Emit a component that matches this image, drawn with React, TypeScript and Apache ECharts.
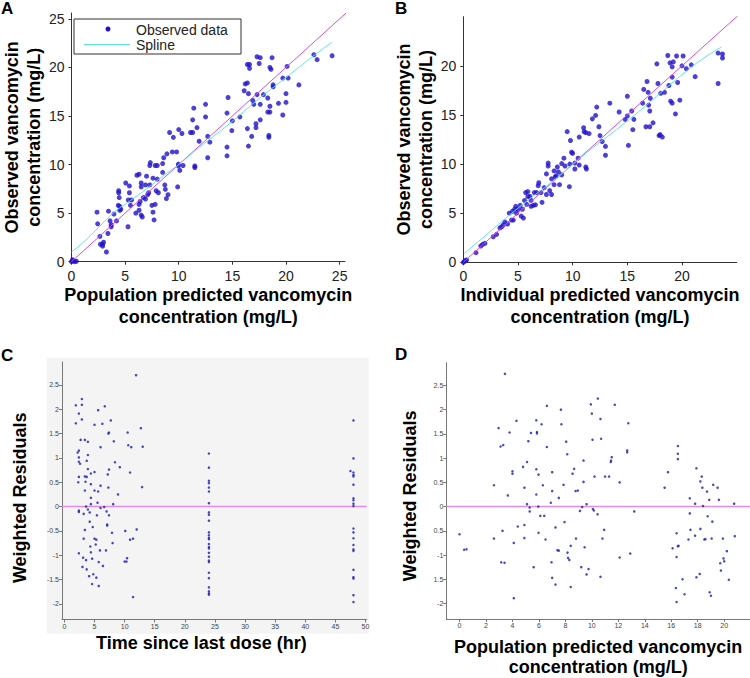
import React, { useEffect, useRef } from 'react';
import * as echarts from 'echarts';

// Panel A: population predicted vs observed (mg/L)
const popPredObs: number[][] = [
  [0, 0], [0.15, 0.1], [0.3, 0], [0.45, 0.05], [0.1, 0.2],
  [2.38, 5.1], [2.44, 3.9], [2.65, 2.6], [2.7, 1.8], [2.9, 1.8], [2.99, 2.0], [2.9, 1.6], [3.26, 1.0], [3.4, 2.9],
  [3.45, 5.2], [3.6, 4.2], [3.7, 3.6], [3.7, 3.8], [3.96, 4.9], [4.2, 4.2], [4.4, 7.3], [4.4, 7.1], [4.36, 5.8],
  [4.5, 5.7], [4.5, 5.3], [4.6, 5.4], [4.45, 6.6], [5.06, 8.1], [5.27, 3.6], [5.3, 6.35], [5.4, 7.1], [5.4, 7.8],
  [5.5, 5.8], [5.6, 6.35], [6.0, 5.0], [6.1, 8.9], [6.3, 9.0], [6.3, 5.9], [6.3, 5.3], [6.4, 6.2], [6.5, 7.7],
  [6.5, 8.1], [6.5, 4.8], [6.6, 4.6], [6.7, 6.6], [6.9, 6.45], [6.9, 7.9], [7.0, 8.8], [7.1, 6.9], [7.2, 7.1],
  [7.3, 7.9], [7.3, 9.9], [7.35, 10.2], [7.5, 5.8], [7.6, 8.6], [7.6, 5.1], [7.7, 4.3], [7.8, 5.9], [7.8, 9.9],
  [7.9, 7.3], [8.0, 9.9], [8.1, 7.1], [8.0, 8.5], [8.5, 10.1], [8.5, 9.2], [8.6, 10.7], [8.7, 7.9], [8.75, 7.45],
  [8.85, 6.5], [9.0, 6.9], [8.9, 11.1], [9.15, 13.3], [9.4, 11.3], [9.5, 12.8], [9.8, 11.3], [9.9, 7.7],
  [9.97, 9.85], [9.97, 10.05], [10.1, 9.4], [10.0, 13.6], [10.3, 13.2], [10.4, 9.9], [11.1, 13.3], [11.3, 13.3],
  [11.3, 14.6], [11.4, 15.8], [11.5, 9.7], [11.5, 9.85], [11.7, 13.8], [11.9, 12.4], [12.5, 14.9], [12.5, 16.2],
  [12.7, 10.7], [12.7, 12.9], [12.9, 12.3], [14.6, 16.9], [14.5, 15.3], [14.5, 11.8], [14.5, 10.9], [15.0, 14.5],
  [14.95, 13.5], [15.7, 14.9], [16.1, 17.6], [16.2, 18.3], [16.4, 18.4], [16.4, 20.3], [16.6, 20.3], [16.5, 17.3],
  [16.5, 11.9], [16.4, 13.7], [16.6, 19.9], [16.8, 12.9], [16.9, 16.6], [17.0, 16.2], [17.3, 17.2], [17.2, 14.2],
  [17.2, 13.8], [17.3, 21.1], [17.5, 20.4], [17.6, 21.0], [17.6, 14.6], [17.6, 16.2], [17.9, 17.2], [18.3, 16.85],
  [18.5, 15.4], [18.4, 13.0], [18.4, 12.8], [18.5, 16.0], [18.5, 20.0], [18.6, 19.8], [18.3, 15.4], [18.7, 21.0],
  [18.8, 18.0], [18.8, 18.2], [19.3, 16.3], [19.7, 18.9], [19.7, 15.1], [20.0, 17.3], [20.0, 16.4], [20.1, 20.1],
  [20.2, 18.9], [21.2, 18.2], [22.6, 21.3], [22.9, 20.8], [24.3, 21.2]
];
const splineA: number[][] = [
  [0, 1.0], [1, 1.9], [2.5, 3.5], [4, 5.1], [5.5, 6.3], [7, 7.5], [8.5, 8.8], [10, 10.0], [11.5, 11.4],
  [13, 12.7], [14.5, 14.0], [16, 15.4], [17.5, 16.8], [19, 18.1], [20.5, 19.4], [22, 20.7], [23.3, 21.8], [24.3, 22.6]
];

// Panel B: individual predicted vs observed (mg/L)
const indPredObs: number[][] = [
  [0, 0], [0.1, 0.1], [0.2, 0.17], [0.3, 0.24], [1.16, 0.98], [1.6, 1.66], [1.77, 1.83], [1.98, 1.93], [2.74, 2.6],
  [3.04, 2.84], [3.35, 3.5], [3.5, 3.6], [3.65, 3.8], [3.8, 4.1], [4.05, 3.9], [4.2, 5.0], [4.4, 4.3], [4.5, 5.2],
  [4.57, 4.3], [4.7, 5.4], [4.8, 5.7], [4.87, 5.0], [5.0, 5.4], [5.2, 5.8], [5.3, 4.7], [5.5, 4.5], [5.4, 5.4],
  [5.6, 6.3], [5.7, 7.1], [5.8, 5.9], [5.9, 7.2], [5.9, 6.7], [6.1, 6.7], [6.2, 5.7], [6.2, 6.3], [6.4, 5.8],
  [6.5, 7.1], [6.6, 5.85], [6.7, 7.1], [6.85, 7.8], [6.9, 8.1], [7.1, 7.1], [7.2, 6.1], [7.4, 7.6], [7.6, 6.9],
  [7.6, 9.0], [7.76, 10.1], [7.76, 9.8], [7.9, 7.3], [8.07, 8.5], [8.07, 6.9], [8.3, 7.9], [8.3, 9.3], [8.4, 8.7],
  [8.5, 8.8], [8.6, 9.7], [8.7, 9.2], [8.8, 7.9], [9.0, 8.9], [9.0, 10.05], [9.2, 10.6], [9.3, 9.8], [9.5, 13.3],
  [9.7, 7.7], [9.74, 10.0], [9.8, 12.4], [9.9, 11.2], [10.0, 11.1], [10.2, 10.1], [10.2, 9.5], [10.5, 10.6],
  [10.6, 9.9], [10.6, 12.75], [11.0, 13.7], [11.05, 13.3], [11.2, 13.2], [11.2, 9.7], [11.26, 9.5], [11.5, 13.1],
  [11.8, 14.6], [12.1, 14.95], [12.2, 15.8], [12.4, 13.8], [12.5, 12.9], [12.7, 12.3], [13.0, 11.8], [13.0, 10.9],
  [13.4, 16.2], [14.25, 15.3], [14.8, 14.55], [15.0, 16.9], [15.0, 14.9], [15.1, 11.9], [15.4, 15.4], [15.5, 13.5],
  [15.6, 14.55], [16.4, 16.2], [16.5, 17.6], [16.8, 18.4], [16.7, 13.8], [16.9, 17.3], [17.1, 16.7], [17.05, 13.8],
  [16.95, 16.0], [17.05, 15.4], [17.35, 14.2], [17.7, 20.2], [17.8, 18.2], [17.9, 12.9], [18.0, 13.0], [18.2, 12.75],
  [18.05, 17.2], [18.4, 17.3], [18.7, 21.05], [18.9, 20.3], [19.1, 19.9], [19.2, 20.4], [18.8, 18.0], [18.96, 16.4],
  [19.1, 16.2], [19.1, 18.85], [19.4, 15.1], [19.5, 21.0], [19.6, 18.3], [19.8, 16.5], [20.1, 21.0], [20.0, 20.0],
  [20.4, 19.7], [20.85, 20.1], [21.2, 18.9], [23.3, 21.3], [23.3, 18.2], [23.7, 21.2], [23.7, 20.8]
];
const splineB: number[][] = [
  [0.1, 0.9], [2, 2.7], [4, 4.6], [6, 6.4], [8, 8.1], [10, 9.95], [12, 11.8], [14, 13.5], [16, 15.3],
  [18, 17.2], [20, 19.1], [22, 20.8], [23.6, 21.9]
];
const identityLine: number[][] = [[0, 0], [30, 30]];

// Panel C: time since last dose (hr) vs weighted residuals
const timeWres: number[][] = [
  [11.9, 2.70], [1.9, 2.08], [2.9, 2.21], [2.9, 2.09], [2.4, 1.91], [2.9, 1.79], [1.9, 1.71], [5.6, 1.98],
  [6.7, 2.06], [5.0, 1.68], [6.3, 1.70], [7.7, 1.77], [7.4, 1.52], [7.3, 1.50], [10.5, 1.52], [12.7, 1.61],
  [2.7, 1.37], [3.4, 1.37], [3.9, 1.33], [8.2, 1.34], [6.0, 1.22], [10.6, 1.26], [11.1, 1.22], [13.0, 1.23],
  [2.4, 1.15], [2.2, 1.11], [2.4, 1.01], [2.4, 0.92], [2.6, 0.88], [3.9, 1.06], [3.7, 0.94], [8.4, 0.91],
  [9.2, 0.81], [3.9, 0.77], [7.4, 0.76], [10.9, 0.70], [5.0, 0.71], [4.4, 0.68], [7.2, 0.66], [2.4, 0.61],
  [3.4, 0.62], [3.7, 0.61], [2.3, 0.50], [3.5, 0.51], [4.4, 0.46], [6.0, 0.43], [3.4, 0.33], [5.0, 0.33],
  [5.6, 0.31], [7.3, 0.39], [12.9, 0.40], [8.9, 0.25], [4.4, 0.18], [4.4, 0.05], [5.5, 0.08], [8.1, 0.05],
  [2.4, -0.08], [2.4, -0.11], [3.2, -0.15], [3.6, 0], [3.9, -0.06], [4.2, -0.12], [5.4, -0.18], [6.0, -0.03],
  [6.6, -0.01], [7.0, -0.10], [7.4, -0.18], [4.2, -0.31], [4.7, -0.42], [7.1, -0.37], [7.1, -0.39], [3.4, -0.48],
  [7.9, -0.54], [10.1, -0.50], [12.0, -0.47], [3.2, -0.66], [5.0, -0.66], [5.3, -0.68], [10.9, -0.68],
  [11.4, -0.66], [5.2, -0.78], [8.0, -0.75], [4.3, -0.82], [5.9, -0.90], [6.9, -0.90], [4.4, -0.94],
  [2.4, -0.96], [3.1, -1.05], [3.6, -1.10], [4.6, -1.07], [5.7, -1.14], [6.4, -1.22], [10.0, -1.13],
  [10.3, -1.13], [10.4, -1.06], [3.0, -1.24], [3.7, -1.29], [4.1, -1.43], [5.3, -1.46], [4.6, -1.59],
  [5.7, -1.63], [4.8, -1.39], [11.4, -1.86],
  [24, 1.09], [24, 0.80], [24, 0.53], [24, 0.48], [24, 0.39], [24, 0.31], [24, 0.07], [24, -0.12], [24, -0.17],
  [24, -0.29], [24, -0.53], [24, -0.59], [24, -0.64], [24, -0.67], [24, -0.77], [24, -0.83], [24, -0.86],
  [24, -0.95], [24, -1.03], [24, -1.11], [24, -1.14], [24, -1.36], [24, -1.47], [24, -1.66], [24, -1.74],
  [24, -1.78], [24, -1.81],
  [48, 1.77], [48, 0.99], [48, 0.70], [48, 0.65], [48, 0.62], [48, 0.45], [48, 0.17], [48, 0.13], [48, 0.06],
  [48, 0.01], [48, -0.45], [48, -0.53], [48, -0.65], [48, -0.79], [48, -0.88], [48, -0.91], [48, -1.30],
  [48, -1.45], [48, -1.48], [48, -1.82], [48, -1.96], [47.5, 0.73]
];

// Panel D: population predicted (mg/L) vs weighted residuals
const popPredWres: number[][] = [
  [0.0, -0.57], [0.35, -0.89], [0.53, -0.88], [3.43, 2.74], [2.95, 1.62], [3.1, 1.24], [3.3, 1.27], [3.78, 1.53],
  [2.6, 0.44], [2.6, -0.66], [3.15, -1.15], [3.4, -1.16], [3.25, -0.50], [3.65, 0.23], [4.3, 1.77], [4.0, 0.73],
  [4.0, 0.68], [4.1, -0.75], [4.1, -1.89], [4.4, -0.41], [4.8, 0.82], [4.9, 0.39], [5.1, 0.92], [4.9, -0.38],
  [4.9, -0.65], [5.2, 1.35], [5.4, 1.52], [5.1, 0.05], [5.3, -0.02], [5.3, -0.10], [5.6, -1.25], [5.8, 1.78],
  [5.85, 1.54], [5.85, 1.51], [5.8, 0.77], [5.8, 0.25], [5.95, 0.0], [5.97, 0.66], [5.97, -0.54], [6.1, -0.19],
  [6.2, 1.70], [6.3, 0.44], [6.4, -0.19], [6.5, -0.68], [6.6, 2.08], [6.6, 1.23], [6.9, 0.08], [6.95, -1.15],
  [7.0, 0.71], [7.0, 0.32], [7.0, -1.47], [7.25, -1.61], [7.25, -0.43], [7.4, -0.90], [7.5, -0.91], [7.5, 0.18],
  [7.66, 2.0], [7.7, 1.70], [7.86, 0.45], [7.93, -0.32], [8.06, 1.34], [8.14, 1.08], [8.16, -0.95], [8.2, -1.06],
  [8.3, -1.10], [8.4, -1.66], [8.4, -0.81], [8.54, 0.68], [8.66, 0.78], [8.77, 0.32], [8.8, -0.66], [8.94, 0.33],
  [9.1, -0.09], [9.2, -1.25], [9.27, -0.01], [9.37, 0.95], [9.37, 0.51], [9.45, -0.84], [9.6, 0.05], [9.6, -1.40],
  [9.75, -1.29], [9.92, 2.11], [10.0, 1.92], [10.05, 1.38], [10.08, -0.05], [10.15, -0.08], [10.2, 0.62],
  [10.45, 2.23], [10.43, -0.16], [10.65, 1.81], [10.7, 1.40], [10.65, -1.45], [10.8, -0.66], [10.93, -0.48],
  [11.0, 0.62], [11.3, 0.62], [11.43, 0.92], [11.45, 0.95], [11.5, 1.02], [11.73, 2.10], [12.1, 0.5],
  [12.1, -1.05], [12.67, 1.12], [12.67, 1.16], [12.75, 1.72], [12.9, -0.97], [13.2, -0.10], [15.5, 0.39],
  [15.75, 0.71], [16.1, -0.86], [16.35, -1.68], [16.4, -1.97], [16.4, -1.04], [16.4, -0.55], [16.5, 1.25],
  [16.5, 1.09], [16.5, 0.98], [16.5, -0.82], [16.55, -0.81], [16.85, -1.50], [17.0, -1.81], [17.3, -0.68],
  [17.4, 0.17], [17.4, -0.14], [17.45, -0.48], [17.8, 0.06], [17.8, -0.60], [17.9, -1.46], [17.9, 0.79],
  [18.15, -1.39], [18.2, 0.52], [18.2, -0.46], [18.3, 0.62], [18.35, 0.39], [18.4, 0.01], [18.5, -0.68],
  [18.58, -0.67], [18.7, 0.31], [18.75, -0.20], [18.87, 0.14], [18.9, -1.77], [19.0, -1.84], [19.05, -0.66],
  [19.1, -0.31], [19.17, 0.45], [19.5, 0.39], [19.6, 0.14], [19.7, -1.17], [19.75, -1.32], [19.9, -0.66],
  [19.95, -1.07], [20.0, -1.13], [20.2, -0.92], [20.35, -1.51], [20.75, 0.06], [20.8, -0.61]
];

const ticksA = [0, 5, 10, 15, 20, 25];
const ticksB = [0, 5, 10, 15, 20];
const ticksResid = [-2, -1.5, -1, -0.5, 0, 0.5, 1, 1.5, 2, 2.5];
const ticksTime = [0, 5, 10, 15, 20, 25, 30, 35, 40, 45, 50];
const ticksPopD = [0, 2, 4, 6, 8, 10, 12, 14, 16, 18, 20];

const FONT = 'Liberation Sans, Arial, sans-serif';
const DOT = '#2010cc';
const DOT_SMALL = '#1a1aae';
const MAGENTA = '#d84fd8';
const CYAN = '#5fe2ee';
const ZERO = '#e38ce3';

function bigAxis(gridIndex: number, min: number, max: number, ticks: number[], extra: any) {
  return {
    type: 'value', gridIndex, min, max,
    splitLine: { show: false },
    axisLine: { show: true, onZero: false, lineStyle: { color: '#333', width: 1 } },
    axisTick: { show: true, length: 3, customValues: ticks, lineStyle: { color: '#333' } },
    axisLabel: { customValues: ticks, fontSize: 14, color: '#222', fontFamily: FONT, margin: 7 },
    nameTextStyle: { fontSize: 18, fontWeight: 'bold', color: '#000', fontFamily: FONT, lineHeight: 22 },
    nameLocation: 'middle',
    ...extra
  };
}

function smallAxis(gridIndex: number, min: number, max: number, ticks: number[], fmt: (v: number) => string, extra: any) {
  return {
    type: 'value', gridIndex, min, max,
    splitLine: { show: false },
    axisLine: { show: true, onZero: false, lineStyle: { color: '#777', width: 1 } },
    axisTick: { show: true, length: 3, customValues: ticks, lineStyle: { color: '#777' } },
    axisLabel: { customValues: ticks, fontSize: 7, color: '#444', fontFamily: FONT, margin: 3, formatter: fmt },
    nameTextStyle: { fontSize: 18, fontWeight: 'bold', color: '#000', fontFamily: FONT, lineHeight: 20 },
    nameLocation: 'middle',
    ...extra
  };
}

const fmtPlain = (v: number) => String(v);
const fmtD = (v: number) => (v === -0.5 ? '0.5' : v === -1.5 ? '1.5' : String(v));

export default function App() {
  const ref = useRef<HTMLDivElement>(null);
  useEffect(() => {
    const chart = echarts.init(ref.current as HTMLDivElement, null, { renderer: 'svg' });
    const panelTitle = { fontSize: 17, fontWeight: 'bold', color: '#000', fontFamily: FONT };
    const option: any = {
      animation: false,
      backgroundColor: '#fff',
      textStyle: { fontFamily: FONT },
      title: [
        { text: 'A', left: 1, top: 0, padding: 0, textStyle: panelTitle },
        { text: 'B', left: 395, top: 0, padding: 0, textStyle: panelTitle },
        { text: 'C', left: 1, top: 347, padding: 0, textStyle: panelTitle },
        { text: 'D', left: 395, top: 346, padding: 0, textStyle: panelTitle }
      ],
      grid: [
        { left: 66.5, top: 13, width: 278.5, height: 248.7 },
        { left: 463.3, top: 16.7, width: 273.4, height: 245.6 },
        { left: 62, top: 362, width: 304.7, height: 257.5 },
        { left: 446.3, top: 362.7, width: 303.7, height: 257.5 }
      ],
      xAxis: [
        bigAxis(0, 0, 25.5, ticksA, { name: 'Population predicted vancomycin\nconcentration (mg/L)', nameGap: 21 }),
        bigAxis(1, 0, 25, ticksB, { name: 'Individual predicted vancomycin\nconcentration (mg/L)', nameGap: 21 }),
        smallAxis(2, -0.4, 50.2, ticksTime, fmtPlain, { name: 'Time since last dose (hr)', nameGap: 13, nameTextStyle: { fontSize: 18, fontWeight: 'bold', color: '#000', fontFamily: FONT, lineHeight: 20, padding: [0, 26, 0, 0] } }),
        smallAxis(3, -1, 21.95, ticksPopD, fmtPlain, { name: 'Population predicted vancomycin\nconcentration (mg/L)', nameGap: 18 })
      ],
      yAxis: [
        bigAxis(0, 0, 25.6, ticksA, { name: 'Observed vancomycin\nconcentration (mg/L)', nameGap: 25 }),
        bigAxis(1, 0, 25, ticksB, { name: 'Observed vancomycin\nconcentration (mg/L)', nameGap: 24 }),
        smallAxis(2, -2.32, 2.97, ticksResid, fmtPlain, { name: 'Weighted Residuals', nameGap: 31, nameTextStyle: { fontSize: 18, fontWeight: 'bold', color: '#000', fontFamily: FONT, lineHeight: 22, padding: [0, 14, 0, 0] } }),
        smallAxis(3, -2.32, 2.97, ticksResid, fmtD, { name: 'Weighted Residuals', nameGap: 25, nameTextStyle: { fontSize: 18, fontWeight: 'bold', color: '#000', fontFamily: FONT, lineHeight: 22, padding: [0, 10, 0, 0] } })
      ],
      graphic: [
        { type: 'rect', z: -10, silent: true, shape: { x: 46.7, y: 357.7, width: 322, height: 276 }, style: { fill: '#f4f4f4' } },
        { type: 'rect', z: 100, shape: { x: 74, y: 19, width: 167, height: 35 }, style: { fill: '#fff', stroke: '#333', lineWidth: 1 } },
        { type: 'circle', z: 101, shape: { cx: 108, cy: 29, r: 2.5 }, style: { fill: DOT } },
        { type: 'line', z: 101, shape: { x1: 84, y1: 44.5, x2: 130, y2: 44.5 }, style: { stroke: CYAN, lineWidth: 1 } },
        { type: 'text', z: 101, x: 136, y: 22.5, style: { text: 'Observed data', fontSize: 14, lineHeight: 14, fontFamily: FONT, fill: '#222', verticalAlign: 'top' } },
        { type: 'text', z: 101, x: 136, y: 37.5, style: { text: 'Spline', fontSize: 14, lineHeight: 14, fontFamily: FONT, fill: '#222', verticalAlign: 'top' } }
      ],
      series: [
        { type: 'scatter', xAxisIndex: 0, yAxisIndex: 0, data: popPredObs, symbolSize: 5, itemStyle: { color: DOT }, z: 2 },
        { type: 'line', xAxisIndex: 0, yAxisIndex: 0, data: identityLine, showSymbol: false, clip: true, lineStyle: { color: MAGENTA, width: 1 }, z: 3 },
        { type: 'line', xAxisIndex: 0, yAxisIndex: 0, data: splineA, smooth: true, showSymbol: false, lineStyle: { color: CYAN, width: 1 }, z: 3 },
        { type: 'scatter', xAxisIndex: 1, yAxisIndex: 1, data: indPredObs, symbolSize: 5, itemStyle: { color: DOT }, z: 2 },
        { type: 'line', xAxisIndex: 1, yAxisIndex: 1, data: identityLine, showSymbol: false, clip: true, lineStyle: { color: MAGENTA, width: 1 }, z: 3 },
        { type: 'line', xAxisIndex: 1, yAxisIndex: 1, data: splineB, smooth: true, showSymbol: false, lineStyle: { color: CYAN, width: 1 }, z: 3 },
        { type: 'line', xAxisIndex: 2, yAxisIndex: 2, data: [[-0.4, 0], [50.2, 0]], showSymbol: false, lineStyle: { color: ZERO, width: 1.5 }, z: 1 },
        { type: 'scatter', xAxisIndex: 2, yAxisIndex: 2, data: timeWres, symbolSize: 2.5, itemStyle: { color: DOT_SMALL }, z: 2 },
        { type: 'line', xAxisIndex: 3, yAxisIndex: 3, data: [[-1, 0], [21.95, 0]], showSymbol: false, lineStyle: { color: ZERO, width: 1.5 }, z: 1 },
        { type: 'scatter', xAxisIndex: 3, yAxisIndex: 3, data: popPredWres, symbolSize: 2.5, itemStyle: { color: DOT_SMALL }, z: 2 }
      ]
    };
    chart.setOption(option);
    return () => chart.dispose();
  }, []);
  return <div ref={ref} style={{ position: 'absolute', left: 0, top: 0, width: 750, height: 678, background: '#fff' }} />;
}
